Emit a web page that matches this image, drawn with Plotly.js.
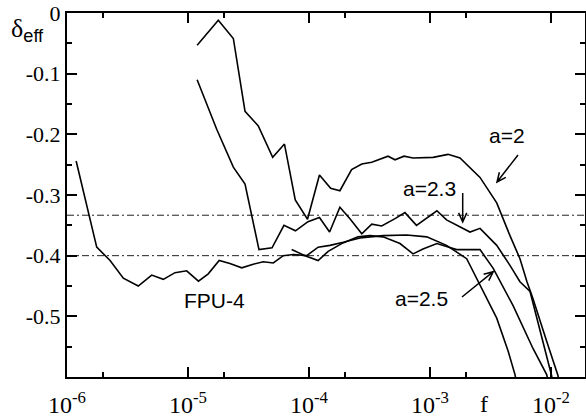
<!DOCTYPE html>
<html>
<head>
<meta charset="utf-8">
<script src="https://cdn.plot.ly/plotly-3.0.1.min.js"></script>
<style>html,body{margin:0;padding:0;background:#fff;}#chart{width:586px;height:420px;}</style>
</head>
<body>
<div id="chart"></div>
<script>
// FPU-4
const fpuF = [1.19e-6,1.76e-6,2.27e-6,2.92e-6,3.88e-6,5.01e-6,6.25e-6,7.81e-6,9.75e-6,1.22e-5,1.47e-5,1.81e-5,2.22e-5,2.78e-5,3.46e-5,4.19e-5,5.07e-5,6.13e-5,7.41e-5,9.57e-5,1.19e-4,1.49e-4,1.92e-4,2.64e-4,4.09e-4,6.41e-4,9.4e-4,1.37e-3,2.01e-3,2.59e-3,3.56e-3,4.42e-3,5.04e-3,5.3e-3];
const fpuD = [-0.244,-0.386,-0.408,-0.437,-0.450,-0.432,-0.439,-0.428,-0.425,-0.442,-0.430,-0.408,-0.413,-0.420,-0.414,-0.410,-0.412,-0.400,-0.398,-0.400,-0.386,-0.383,-0.378,-0.371,-0.367,-0.366,-0.369,-0.383,-0.405,-0.449,-0.503,-0.557,-0.596,-0.62];
// a = 2
const a2F = [1.19e-5,1.78e-5,2.37e-5,2.96e-5,3.81e-5,5.01e-5,6.27e-5,7.7e-5,9.72e-5,1.22e-4,1.51e-4,1.80e-4,2.25e-4,2.73e-4,3.30e-4,3.86e-4,4.5e-4,5.14e-4,6.1e-4,7.24e-4,1.06e-3,1.41e-3,1.77e-3,2.59e-3,3.56e-3,4.58e-3,5.54e-3,6.33e-3,7.1e-3,9.21e-3,1.14e-2,1.2e-2];
const a2D = [-0.053,-0.012,-0.042,-0.162,-0.186,-0.238,-0.216,-0.308,-0.340,-0.267,-0.289,-0.293,-0.258,-0.249,-0.246,-0.241,-0.236,-0.242,-0.236,-0.239,-0.238,-0.233,-0.239,-0.271,-0.313,-0.367,-0.405,-0.443,-0.471,-0.541,-0.597,-0.62];
// a = 2.3
const a23F = [1.19e-5,1.73e-5,2.37e-5,2.96e-5,3.86e-5,4.95e-5,6.21e-5,7.73e-5,9.81e-5,1.22e-4,1.48e-4,1.80e-4,2.18e-4,2.73e-4,3.30e-4,3.99e-4,5.14e-4,6.21e-4,7.73e-4,1.14e-3,1.37e-3,2.14e-3,2.59e-3,3.56e-3,4.58e-3,5.54e-3,6.71e-3,8.59e-3,1.01e-2,1.05e-2];
const a23D = [-0.110,-0.192,-0.254,-0.282,-0.390,-0.387,-0.350,-0.359,-0.344,-0.337,-0.361,-0.320,-0.339,-0.364,-0.348,-0.351,-0.339,-0.329,-0.350,-0.326,-0.341,-0.361,-0.355,-0.383,-0.416,-0.443,-0.459,-0.541,-0.597,-0.62];
// a = 2.5
const a25F = [7.19e-5,9.27e-5,1.19e-4,1.44e-4,1.91e-4,2.54e-4,3.19e-4,4.09e-4,5.65e-4,7.24e-4,8.75e-4,1.14e-3,1.37e-3,1.66e-3,2.59e-3,3.33e-3,4.85e-3,7.1e-3,9.21e-3,9.8e-3];
const a25D = [-0.390,-0.400,-0.408,-0.393,-0.379,-0.369,-0.367,-0.369,-0.380,-0.397,-0.389,-0.380,-0.385,-0.390,-0.390,-0.421,-0.482,-0.553,-0.596,-0.62];

// reference levels
const refLevels = [-1/3, -0.4];

// ticks
const xTickVals = [1e-6,1e-5,1e-4,1e-3,1e-2];
const xTickText = ['10<sup>-6</sup>','10<sup>-5</sup>','10<sup>-4</sup>','10<sup>-3</sup>','10<sup>-2</sup>'];
const xMinorVals = [2e-6,2e-5,2e-4,2e-3];
const yTickVals = [0,-0.1,-0.2,-0.3,-0.4,-0.5];
const yTickText = ['0','-0.1','-0.2','-0.3','-0.4','-0.5'];
const yMinorVals = [-0.05,-0.15,-0.25,-0.35,-0.45,-0.55];

const lineStyle = {color:'#000', width:1.6};
const mk = (x,y,name)=>({x:x,y:y,mode:'lines',type:'scatter',name:name,line:lineStyle,showlegend:false,hoverinfo:'skip'});
const traces = [mk(fpuF,fpuD,'FPU-4'), mk(a2F,a2D,'a=2'), mk(a23F,a23D,'a=2.3'), mk(a25F,a25D,'a=2.5')];

const labFont = {family:'Liberation Sans, Arial', size:21, color:'#000'};
const serif = 'Liberation Serif, Times New Roman, serif';

// plot-area geometry (pixels) used to place the arrow decorations
const M = {l:67, r:1, t:13, b:43};
const PW = 586 - M.l - M.r, PH = 420 - M.t - M.b;
const px = x => (x - M.l) / PW;
const py = y => (420 - M.b - y) / PH;
function arrowPath(tx, ty, hx, hy) {
  const ang = Math.atan2(ty - hy, tx - hx);
  const len = 10, spread = 0.42;
  const a1 = ang + spread, a2 = ang - spread;
  const p1x = hx + len*Math.cos(a1), p1y = hy + len*Math.sin(a1);
  const p2x = hx + len*Math.cos(a2), p2y = hy + len*Math.sin(a2);
  return `M${px(tx)},${py(ty)} L${px(hx)},${py(hy)} M${px(p1x)},${py(p1y)} L${px(hx)},${py(hy)} L${px(p2x)},${py(p2y)}`;
}
const arrows = [[518,155,497,182],[462.7,193,462.7,222],[462,297,493.3,271.7]];

const shapes = refLevels.map(v=>({type:'line', xref:'paper', x0:0, x1:1, yref:'y', y0:v, y1:v,
  line:{color:'#222', width:1, dash:'7px,3px,2px,3px'}, layer:'below'}))
  .concat(arrows.map(a=>({type:'path', xref:'paper', yref:'paper', path:arrowPath(a[0],a[1],a[2],a[3]),
  line:{color:'#000', width:1.5}})));

const annotations = [
  {text:'a=2', xref:'x', yref:'y', x:-2.364, y:-0.2016, xanchor:'center', yanchor:'middle', showarrow:false, font:labFont},
  {text:'a=2.3', xref:'x', yref:'y', x:-3.008, y:-0.290, xanchor:'center', yanchor:'middle', showarrow:false, font:labFont},
  {text:'a=2.5', xref:'x', yref:'y', x:-3.074, y:-0.470, xanchor:'center', yanchor:'middle', showarrow:false, font:labFont},
  {text:'FPU-4', xref:'x', yref:'y', x:-4.785, y:-0.474, xanchor:'center', yanchor:'middle', showarrow:false, font:labFont},
  {text:'f', xref:'paper', yref:'paper', x:px(484), y:py(404), xanchor:'center', yanchor:'middle', showarrow:false, font:{family:serif, size:24, color:'#000'}},
  {text:'δ<sub><span style="font-family:Liberation Sans">eff</span></sub>', xref:'paper', yref:'paper', x:px(9), y:py(30), xanchor:'left', yanchor:'middle', showarrow:false, font:{family:serif, size:26, color:'#000'}}
];

const layout = {
  width:586, height:420,
  margin:{l:M.l, r:M.r, t:M.t, b:M.b, pad:0},
  paper_bgcolor:'#fff', plot_bgcolor:'#fff',
  showlegend:false,
  xaxis:{type:'log', range:[-6, -1.719], showgrid:false, zeroline:false,
    showline:true, linecolor:'#000', linewidth:2, mirror:'allticks',
    ticks:'inside', ticklen:10, tickwidth:2, tickcolor:'#000',
    tickmode:'array', tickvals:xTickVals, ticktext:xTickText,
    tickfont:{family:serif, size:24, color:'#000'}, ticklabelstandoff:5,
    minor:{tickmode:'array', tickvals:xMinorVals, ticks:'inside', ticklen:5, tickwidth:2, tickcolor:'#000', showgrid:false}},
  yaxis:{range:[-0.6, 0], showgrid:false, zeroline:false,
    showline:true, linecolor:'#000', linewidth:2, mirror:'allticks',
    ticks:'inside', ticklen:10, tickwidth:2, tickcolor:'#000',
    tickmode:'array', tickvals:yTickVals, ticktext:yTickText,
    tickfont:{family:serif, size:22, color:'#000'},
    minor:{tickmode:'array', tickvals:yMinorVals, ticks:'inside', ticklen:5, tickwidth:2, tickcolor:'#000', showgrid:false}},
  shapes:shapes,
  annotations:annotations
};

Plotly.newPlot('chart', traces, layout, {staticPlot:true, displayModeBar:false});
</script>
</body>
</html>
